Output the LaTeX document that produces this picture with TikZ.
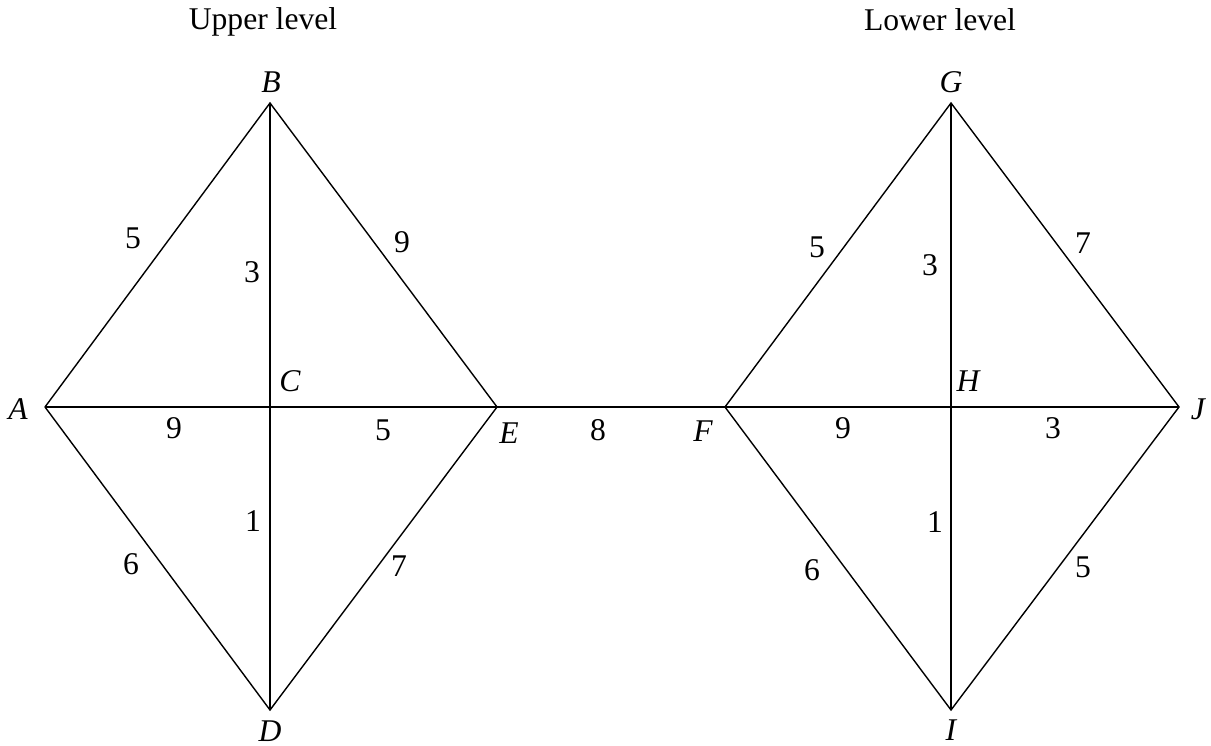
\documentclass[tikz,border=0pt]{standalone}
\usepackage{fontspec}
\setmainfont{Liberation Serif}
\begin{document}
\begin{tikzpicture}[x=0.02cm,y=-0.02cm,
  lbl/.style={font=\fontsize{18}{21}\selectfont\itshape,inner sep=0pt},
  num/.style={font=\fontsize{18}{21}\selectfont,inner sep=0pt},
  ttl/.style={font=\fontsize{18}{21}\selectfont,inner sep=0pt,anchor=base},
  edge/.style={draw=black,line width=0.8pt}]
\useasboundingbox (0,0) rectangle (1211,746);
% vertices
\coordinate (A) at (45,407);
\coordinate (B) at (270,103);
\coordinate (C) at (270,407);
\coordinate (D) at (270,710);
\coordinate (E) at (497,407);
\coordinate (F) at (725,407);
\coordinate (G) at (951,103);
\coordinate (H) at (951,407);
\coordinate (I) at (951,710);
\coordinate (J) at (1179,407);
% edges
\path[edge] (A) -- (B) -- (E) -- (D) -- (A);
\path[edge] (B) -- (D);
\path[edge] (A) -- (E);
\path[edge] (E) -- (F);
\path[edge] (F) -- (G) -- (J) -- (I) -- (F);
\path[edge] (G) -- (I);
\path[edge] (F) -- (J);
% vertex labels
\node[lbl] (lA) at (18,409) {A};
\node[lbl] (lB) at (271,82) {B};
\node[lbl] (lC) at (290,381) {C};
\node[lbl] (lD) at (270,731) {D};
\node[lbl] (lE) at (509,433) {E};
\node[lbl] (lF) at (703,431) {F};
\node[lbl] (lG) at (951,82) {G};
\node[lbl] (lH) at (968,381) {H};
\node[lbl] (lI) at (951,730) {I};
\node[lbl] (lJ) at (1198,409) {J};
% titles
\node[ttl] (t1) at (263,30) {Upper level};
\node[ttl] (t2) at (940,31) {Lower level};
% edge weights
\node[num] (w1) at (133,238) {5};
\node[num] (w2) at (252,272) {3};
\node[num] (w3) at (402,242) {9};
\node[num] (w4) at (174,428) {9};
\node[num] (w5) at (383,430) {5};
\node[num] (w6) at (253,521) {1};
\node[num] (w7) at (131,564) {6};
\node[num] (w8) at (399,566) {7};
\node[num] (w9) at (598,430) {8};
\node[num] (w10) at (817,247) {5};
\node[num] (w11) at (930,265) {3};
\node[num] (w12) at (1083,243) {7};
\node[num] (w13) at (843,428) {9};
\node[num] (w14) at (1053,428) {3};
\node[num] (w15) at (935,522) {1};
\node[num] (w16) at (812,570) {6};
\node[num] (w17) at (1083,567) {5};
\end{tikzpicture}
\end{document}
